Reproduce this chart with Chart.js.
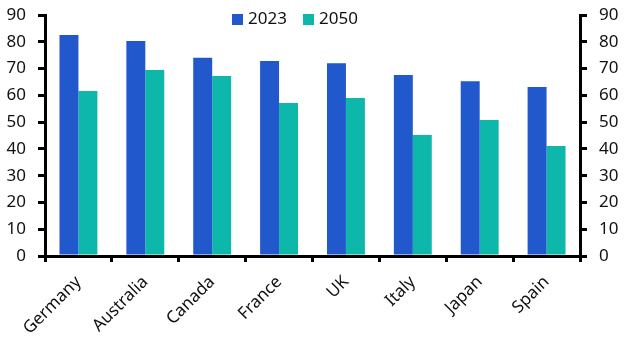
<!DOCTYPE html>
<html><head><meta charset="utf-8">
<script src="https://cdn.jsdelivr.net/npm/chart.js@4.4.0/dist/chart.umd.min.js"></script>
<style>html,body{margin:0;padding:0;background:#fff}#wrap{width:624px;height:356px}</style>
</head><body><div id="wrap"><canvas id="c" width="624" height="356"></canvas></div>
<script>
const categories = ["Germany","Australia","Canada","France","UK","Italy","Japan","Spain"];
const values2023 = [82.5, 80.3, 74.0, 72.8, 72.0, 67.6, 65.3, 63.1];
const values2050 = [61.6, 69.5, 67.2, 57.1, 59.0, 45.2, 50.8, 41.1];
const seriesLabels = ["2023", "2050"];
const yTicks = [0,10,20,30,40,50,60,70,80,90];

const FONT = '"Noto Sans", "Open Sans", sans-serif';
const legendPlugin = {
  id: 'customLegend',
  afterDraw(chart) {
    const ctx = chart.ctx;
    ctx.save();
    ctx.font = '17px ' + FONT;
    ctx.textBaseline = 'middle';
    const xs = [232, 303];
    chart.data.datasets.forEach((ds, i) => {
      ctx.fillStyle = ds.backgroundColor;
      ctx.fillRect(xs[i], 14, 11, 11);
      ctx.fillStyle = '#111';
      ctx.fillText(ds.label, xs[i] + 16, 19.5);
    });
    ctx.restore();
  }
};

const fixY = (w) => (s) => { s.width = w; s.paddingTop = 15; s.paddingBottom = 0; };

const axisCommon = {
  min: 0, max: 90,
  afterBuildTicks: (s) => { s.ticks = yTicks.map(v => ({value: v})); },
  grid: { display: true, drawOnChartArea: false, drawTicks: true, tickLength: 7, color: '#000', lineWidth: 3 },
  border: { display: true, color: '#000', width: 3 }
};

new Chart(document.getElementById('c'), {
  type: 'bar',
  data: {
    labels: categories,
    datasets: [
      { label: seriesLabels[0], data: values2023, backgroundColor: '#2158CC', borderWidth: 0, yAxisID: 'y' },
      { label: seriesLabels[1], data: values2050, backgroundColor: '#0DB8AA', borderWidth: 0, yAxisID: 'y' }
    ]
  },
  options: {
    responsive: false,
    animation: false,
    layout: { padding: { top: 0, bottom: 0, left: 0, right: 0 } },
    plugins: { legend: { display: false }, tooltip: { enabled: false } },
    datasets: { bar: { barPercentage: 1.0, categoryPercentage: 0.567 } },
    scales: {
      x: {
        ticks: { color: '#111', font: {family: FONT, size: 17}, maxRotation: 45, minRotation: 45, padding: 10 },
        grid: { display: true, drawOnChartArea: false, drawTicks: true, tickLength: 6, color: '#000', lineWidth: 3, offset: true },
        border: { display: true, color: '#000', width: 3 },
        afterFit: (s) => { s.height = 100; }
      },
      y: Object.assign({}, axisCommon, { position: 'left',
        ticks: { color: '#111', font: {family: FONT, size: 17}, padding: 12 },
        afterFit: fixY(45) }),
      y2: Object.assign({}, axisCommon, { position: 'right',
        ticks: { color: '#111', font: {family: FONT, size: 17}, padding: 12 },
        afterFit: fixY(44) })
    }
  },
  plugins: [legendPlugin]
});
</script></body></html>
